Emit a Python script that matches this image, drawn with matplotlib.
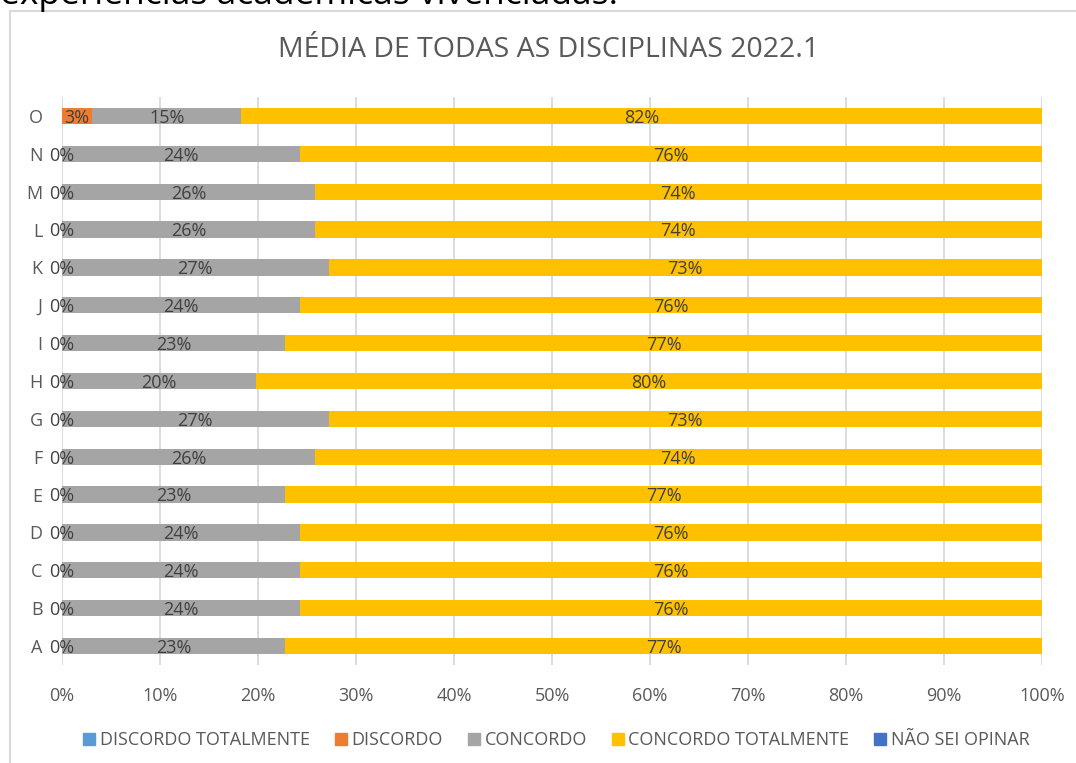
import numpy as np
import matplotlib.pyplot as plt
from matplotlib.lines import Line2D

# Dados (percentuais) por disciplina, de A até O
disciplinas = ["A", "B", "C", "D", "E", "F", "G", "H", "I", "J", "K", "L", "M", "N", "O"]
discordo_totalmente = [0, 0, 0, 0, 0, 0, 0, 0, 0, 0, 0, 0, 0, 0, 0]
discordo = [0, 0, 0, 0, 0, 0, 0, 0, 0, 0, 0, 0, 0, 0, 3.1]
concordo = [22.8, 24.3, 24.3, 24.3, 22.8, 25.8, 27.2, 19.8, 22.8, 24.3, 27.2, 25.8, 25.8, 24.3, 15.2]
concordo_totalmente = [77.2, 75.7, 75.7, 75.7, 77.2, 74.2, 72.8, 80.2, 77.2, 75.7, 72.8, 74.2, 74.2, 75.7, 81.7]
nao_sei_opinar = [0, 0, 0, 0, 0, 0, 0, 0, 0, 0, 0, 0, 0, 0, 0]

series = ["DISCORDO TOTALMENTE", "DISCORDO", "CONCORDO", "CONCORDO TOTALMENTE", "NÃO SEI OPINAR"]
cores = ["#5B9BD5", "#ED7D31", "#A5A5A5", "#FFC000", "#4472C4"]

plt.rcParams['font.family'] = ['Open Sans', 'DejaVu Sans']

fig = plt.figure(figsize=(10.76, 7.63), dpi=100)
ax = fig.add_axes([62 / 1076, 1 - 665 / 763, 980 / 1076, 568 / 763])

y = np.arange(len(disciplinas))
valores = [np.array(v, dtype=float) for v in
           [discordo_totalmente, discordo, concordo, concordo_totalmente, nao_sei_opinar]]
esquerda = np.zeros(len(disciplinas))
for nome, vals, cor in zip(series, valores, cores):
    ax.barh(y, vals, left=esquerda, height=0.43, color=cor, label=nome, zorder=2)
    if nome in ("DISCORDO", "CONCORDO", "CONCORDO TOTALMENTE"):
        for yi, l, v in zip(y, esquerda, vals):
            ax.text(l + v / 2, yi - 0.05, f"{round(v):d}%", ha="center", va="center",
                    fontsize=13, color="#404040", zorder=3)
    esquerda = esquerda + vals

ax.set_xlim(0, 100)
ax.set_ylim(-0.5, len(disciplinas) - 0.5)
ax.set_xticks(np.arange(0, 101, 10))
ax.set_xticklabels([f"{t}%" for t in range(0, 101, 10)])
ax.set_yticks(y)
ax.set_yticklabels(disciplinas)
ax.tick_params(axis="both", length=0, labelsize=13, labelcolor="#595959")
ax.tick_params(axis="x", pad=16)
ax.tick_params(axis="y", pad=14)
ax.grid(axis="x", color="#D9D9D9", linewidth=1.3, zorder=0)
ax.set_axisbelow(True)
for s in ax.spines.values():
    s.set_visible(False)

fig.text(549 / 1076, 1 - 50 / 763, "MÉDIA DE TODAS AS DISCIPLINAS 2022.1",
         ha="center", va="center", fontsize=20.5, color="#595959")

# Moldura do gráfico (cortada à direita e embaixo)
fig.add_artist(Line2D([10 / 1076, 10 / 1076], [0, 1 - 11 / 763], color="#D9D9D9", linewidth=1.5))
fig.add_artist(Line2D([10 / 1076, 1], [1 - 11 / 763, 1 - 11 / 763], color="#D9D9D9", linewidth=1.5))

# Texto do documento cortado no topo
fig.text(0, 1 - 4 / 763, "experiências acadêmicas vivenciadas.", ha="left", va="baseline",
         fontsize=25.5, color="#000000")

handles = [Line2D([], [], marker="s", linestyle="none", markersize=8, color=c) for c in cores]
fig.legend(handles, series, loc="center", bbox_to_anchor=(555 / 1076, 1 - 740 / 763), ncol=5,
           frameon=False, fontsize=13, labelcolor="#595959", handletextpad=0.1,
           columnspacing=1.2, handlelength=1.0)

fig.savefig("out.png", dpi=100)
